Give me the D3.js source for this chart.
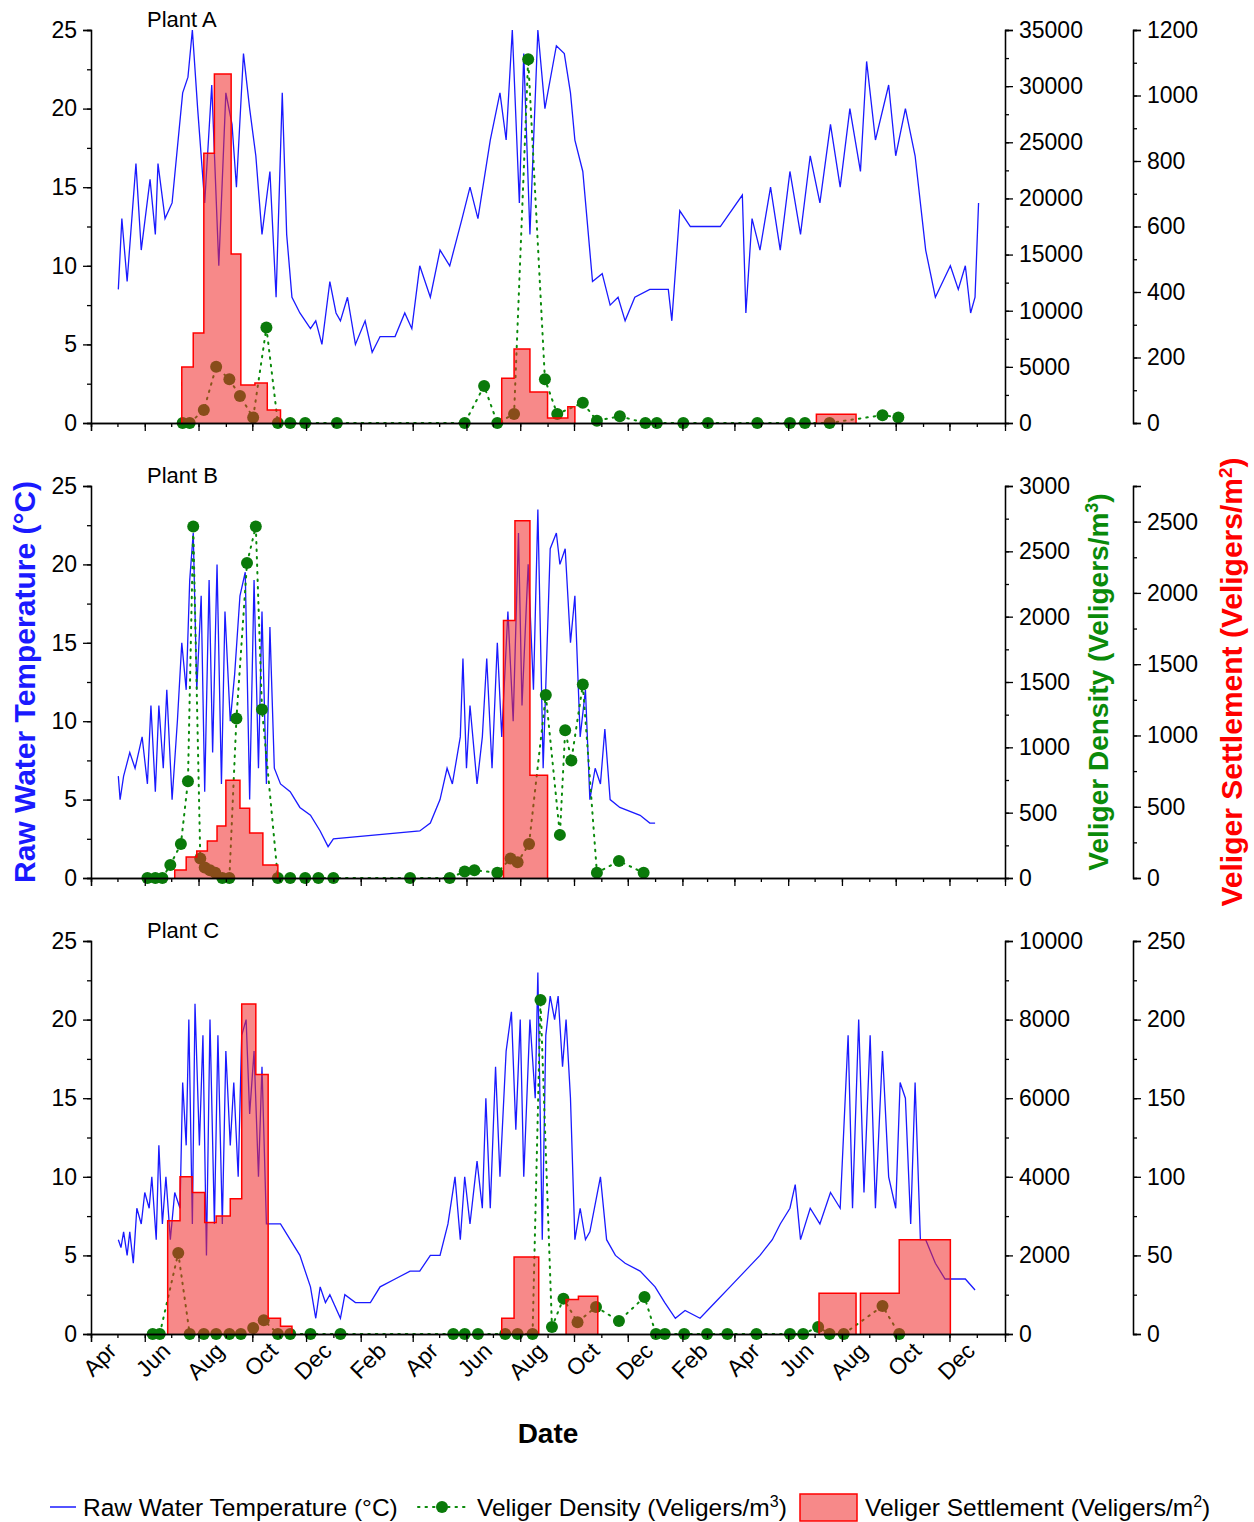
<!DOCTYPE html>
<html><head><meta charset="utf-8">
<script src="https://cdn.jsdelivr.net/npm/d3@7"></script>
<style>
body{margin:0;background:#fff;font-family:"Liberation Sans",Arial,sans-serif;}
svg text{font-family:"Liberation Sans",Arial,sans-serif;}
</style></head><body>
<svg id="svg" width="1254" height="1522"></svg>
<script>
// all times are days since 2016-04-01
const start = new Date(2016, 3, 1);

const tempA = [[31,8.5],[35,13],[41,9],[51,16.5],[57,11],[67,15.5],[73,12],[76,16.5],[84,13],[92,14],[104,21],[110,22],[115,25],[121,20],[129,14],[137,21.5],[145,10],[153,21],[160,19],[165,15],[173,23.5],[180,20],[187,17],[194,12],[203,16],[210,8],[217,21],[222,12],[228,8],[237,7],[249,6],[255,6.5],[262,5],[271,9],[278,7],[283,6.5],[291,8],[300,5],[311,6.5],[319,4.5],[328,5.5],[345,5.5],[356,7],[364,6],[373,10],[385,8],[396,11],[407,10],[421,13],[430,15],[439,13],[453,18],[464,21],[471,18],[478,25],[486,14],[491,23.5],[498,12],[507,25],[515,20],[528,24],[537,23.5],[544,21],[549,18],[558,16],[569,9],[580,9.5],[589,7.5],[598,8],[606,6.5],[617,8],[634,8.5],[655,8.5],[659,6.5],[668,13.5],[680,12.5],[714,12.5],[739,14.5],[743,7],[750,13],[759,11],[771,15],[782,11],[793,16],[805,12],[816,17],[827,14],[839,19],[850,15],[861,20],[873,16],[880,23],[890,18],[905,21.5],[913,17],[924,20],[935,17],[947,11],[958,8],[975,10],[984,8.5],[992,10],[998,7],[1003,8],[1007,14]];
const densA = [[104,0],[112,0],[128,1150],[142,5000],[157,3900],[169,2400],[184,500],[199,8500],[212,0],[226,0],[243,0],[279,0],[424,0],[446,3300],[461,0],[480,800],[496,32400],[515,3900],[529,800],[558,1800],[574,200],[600,600],[629,0],[642,0],[672,0],[700,0],[756,0],[793,0],[810,0],[838,0],[898,700],[916,500]];
const settleA = [[103,116,171],[116,128,275],[128,140,824],[140,159,1066],[159,170,516],[170,186,116],[186,200,122],[200,215,40],[466,480,137],[480,498,226],[498,518,95],[518,541,15],[541,549,50],[823,868,27]];

const tempB = [[31,6.5],[33,5],[37,6.5],[44,8],[50,7],[58,9],[64,6],[68,11],[73,5.5],[77,11],[82,7],[86,12],[92,5],[98,10],[103,15],[108,12],[112,19],[116,22],[120,12],[125,18],[129,5.5],[134,19],[138,8],[143,20],[148,6],[152,17],[158,10],[163,13],[169,18],[175,19.5],[180,5],[185,19],[190,7],[194,17],[199,6],[203,16],[208,7],[215,6],[226,5.5],[237,4.5],[249,4],[260,3],[269,2],[275,2.5],[373,3],[385,3.5],[396,5],[404,7],[410,6],[419,9],[422,14],[426,7],[430,11],[438,6],[444,9],[449,14],[455,7],[461,15],[466,9],[473,17],[479,10],[485,22],[489,11],[496,20],[502,12],[507,23.5],[513,7],[521,21],[528,22],[532,20],[538,21],[544,15],[549,18],[555,9],[561,12],[566,5],[572,7],[578,6],[583,9.5],[589,5],[600,4.5],[623,4],[634,3.5],[640,3.5]];
const densB = [[64,0],[73,0],[81,0],[90,100],[102,260],[110,740],[116,2690],[124,150],[129,80],[135,60],[141,40],[149,0],[157,0],[165,1220],[177,2410],[187,2690],[194,1290],[212,0],[226,0],[243,0],[258,0],[275,0],[362,0],[407,0],[424,50],[435,60],[461,40],[476,150],[484,120],[497,260],[516,1400],[532,330],[538,1130],[545,900],[558,1480],[574,40],[599,130],[627,40]];
const settleB = [[95,108,56],[108,120,147],[120,132,189],[132,143,259],[143,153,364],[153,169,686],[169,180,490],[180,195,315],[195,212,91],[468,481,1806],[481,498,2507],[498,518,721]];

const tempC = [[31,6],[34,5.5],[37,6.5],[41,5],[44,6.5],[48,4.5],[52,8],[57,7],[61,9],[66,8],[69,10],[74,6],[77,12],[81,7],[85,10],[90,6],[95,9],[101,8],[104,16],[108,12],[111,20],[115,7],[118,21],[123,12],[127,19],[131,5],[135,20],[140,7],[144,19],[149,7],[153,18],[158,12],[162,16],[167,10],[171,19],[176,20],[180,14],[185,18],[190,10],[194,17],[199,7],[205,7],[215,7],[226,6],[237,5],[249,3],[255,1],[260,3],[266,2],[271,2.5],[283,1],[288,2.5],[300,2],[317,2],[328,3],[345,3.5],[362,4],[373,4],[385,5],[396,5],[405,7],[413,10],[419,6],[424,10],[430,7],[438,11],[444,8],[448,15],[453,8],[459,17],[464,10],[471,18],[477,20.5],[482,13],[487,20],[491,10],[498,20],[504,15],[507,23],[512,6],[516,19],[521,21.5],[526,20],[530,21.5],[535,17],[539,20],[544,15],[549,6],[555,8],[561,6],[566,6.5],[578,10],[585,6],[595,5],[606,4.5],[623,4],[640,3],[651,2],[663,1],[674,1.5],[691,1],[708,2],[725,3],[742,4],[759,5],[773,6],[782,7],[793,8],[799,9.5],[805,6],[816,8],[827,7],[839,9],[850,8],[859,19],[864,8],[871,20],[877,9],[884,19],[890,8],[898,18],[905,10],[913,8],[918,16],[924,15],[930,7],[935,16],[941,6],[947,6],[958,4.5],[969,3.5],[981,3.5],[992,3.5],[1003,2.8]];
const densC = [[70,0],[78,0],[99,2060],[112,0],[128,0],[142,0],[157,0],[170,0],[184,150],[196,350],[212,0],[226,0],[249,0],[283,0],[411,0],[424,0],[439,0],[470,0],[484,0],[501,0],[510,8500],[523,180],[536,900],[552,300],[573,690],[599,330],[628,940],[641,0],[651,0],[673,0],[699,0],[722,0],[755,0],[793,0],[808,0],[825,180],[838,0],[854,0],[898,710],[917,0]];
const settleC = [[87,101,72],[101,115,100],[115,129,90],[129,142,71],[142,158,75],[158,171,86],[171,187,210],[187,201,165],[201,215,10],[215,228,5],[466,480,10],[480,508,49],[539,553,22],[553,575,24],[826,868,26],[873,917,26],[917,975,60]];

const densTicks = [[0,5000,10000,15000,20000,25000,30000,35000],[0,500,1000,1500,2000,2500,3000],[0,2000,4000,6000,8000,10000]];
const settleTicks = [[0,200,400,600,800,1000,1200],[0,500,1000,1500,2000,2500],[0,50,100,150,200,250]];
const densMax = [35000, 3000, 10000];
const settleMax = [1200, 2750, 250];
const plantNames = ['Plant A', 'Plant B', 'Plant C'];

const panels = [
  {name: plantNames[0], temp: tempA, dens: densA, settle: settleA, top: 30, bottom: 423},
  {name: plantNames[1], temp: tempB, dens: densB, settle: settleB, top: 486, bottom: 878},
  {name: plantNames[2], temp: tempC, dens: densC, settle: settleC, top: 941, bottom: 1334},
];

const day = d => d3.timeDay.offset(start, d);
const svg = d3.select('#svg');
const x = d3.scaleTime().domain([start, new Date(2019, 1, 2)]).range([91, 1005]);
const months = d3.timeMonth.range(start, new Date(2019, 0, 31));
const majorMonths = months.filter((m, i) => i % 2 === 0);
const xRight = 1005, xFar = 1133;
const FS = 23;

function styleAxis(g) {
  g.selectAll('path,line').attr('stroke', '#000').attr('stroke-width', 1.3);
  g.selectAll('text').attr('font-size', FS).attr('fill', '#000');
}

panels.forEach((p, i) => {
  const yT = d3.scaleLinear().domain([0, 25]).range([p.bottom, p.top]);
  const yD = d3.scaleLinear().domain([0, densMax[i]]).range([p.bottom, p.top]);
  const yS = d3.scaleLinear().domain([0, settleMax[i]]).range([p.bottom, p.top]);
  const g = svg.append('g');

  // temperature line
  g.append('path').datum(p.temp)
    .attr('fill', 'none').attr('stroke', '#1a1aff').attr('stroke-width', 1.3)
    .attr('d', d3.line().x(d => x(day(d[0]))).y(d => yT(d[1])));

  // density: dotted line + dots
  g.append('path').datum(p.dens)
    .attr('fill', 'none').attr('stroke', '#0a8a0a').attr('stroke-width', 2)
    .attr('stroke-dasharray', '1.5,6').attr('stroke-linecap', 'round')
    .attr('d', d3.line().x(d => x(day(d[0]))).y(d => yD(d[1])));
  g.append('g').selectAll('circle').data(p.dens).join('circle')
    .attr('cx', d => x(day(d[0]))).attr('cy', d => yD(d[1])).attr('r', 6)
    .attr('fill', '#0a7a0a');

  // settlement steps, grouped into contiguous runs
  const groups = [];
  p.settle.forEach(b => {
    const last = groups[groups.length - 1];
    if (last && last[last.length - 1][1] === b[0]) last.push(b);
    else groups.push([b]);
  });
  groups.forEach(gr => {
    const pts = [[gr[0][0], 0]];
    gr.forEach(b => pts.push([b[0], b[2]]));
    pts.push([gr[gr.length - 1][1], 0]);
    g.append('path').datum(pts)
      .attr('fill', 'rgba(240,40,40,0.55)').attr('stroke', '#ff0000').attr('stroke-width', 1.5)
      .attr('d', d3.line().curve(d3.curveStepAfter).x(d => x(day(d[0]))).y(d => yS(d[1])));
  });

  // axes
  g.append('g').attr('transform', `translate(91,0)`)
    .call(d3.axisLeft(yT).tickValues(d3.range(0, 25.1, 2.5)).tickSize(4).tickFormat(''))
    .call(styleAxis);
  g.append('g').attr('transform', `translate(91,0)`)
    .call(d3.axisLeft(yT).tickValues([0, 5, 10, 15, 20, 25]).tickSize(8).tickPadding(6))
    .call(styleAxis);

  g.append('g').attr('transform', `translate(${xRight},0)`)
    .call(d3.axisRight(yD).tickValues(d3.range(0, densMax[i] + 1, (densTicks[i][1]) / 2)).tickSize(4).tickFormat(''))
    .call(styleAxis);
  g.append('g').attr('transform', `translate(${xRight},0)`)
    .call(d3.axisRight(yD).tickValues(densTicks[i]).tickSize(8).tickPadding(6).tickFormat(d3.format('d')))
    .call(styleAxis);

  g.append('g').attr('transform', `translate(${xFar},0)`)
    .call(d3.axisRight(yS).tickValues(d3.range(0, settleMax[i] + 1, settleTicks[i][1] / 2)).tickSize(4).tickFormat(''))
    .call(styleAxis);
  g.append('g').attr('transform', `translate(${xFar},0)`)
    .call(d3.axisRight(yS).tickValues(settleTicks[i]).tickSize(8).tickPadding(6).tickFormat(d3.format('d')))
    .call(styleAxis);

  g.append('g').attr('transform', `translate(0,${p.bottom})`)
    .call(d3.axisBottom(x).tickValues(months).tickSize(4).tickFormat(''))
    .call(styleAxis);
  const xa = g.append('g').attr('transform', `translate(0,${p.bottom})`)
    .call(d3.axisBottom(x).tickValues(majorMonths).tickSize(8).tickFormat(i === 2 ? d3.timeFormat('%b') : ''))
    .call(styleAxis);
  xa.selectAll('text').attr('text-anchor', 'end').attr('dx', '0.25em').attr('dy', '0.9em')
    .attr('transform', 'rotate(-45)');

  g.append('text').attr('x', 147).attr('y', p.top - 3).attr('font-size', 22).text(p.name);
});

// axis titles
svg.append('text').attr('transform', 'translate(35,682) rotate(-90)').attr('text-anchor', 'middle')
  .attr('font-size', 30).attr('font-weight', 'bold').attr('fill', '#1a1aff').text('Raw Water Temperature (°C)');
const gt = svg.append('text').attr('transform', 'translate(1108,682) rotate(-90)').attr('text-anchor', 'middle')
  .attr('font-size', 28).attr('font-weight', 'bold').attr('fill', '#0a8a0a');
gt.append('tspan').text('Veliger Density (Veligers/m');
gt.append('tspan').attr('dy', -10).attr('font-size', 18).text('3');
gt.append('tspan').attr('dy', 10).text(')');
const rt = svg.append('text').attr('transform', 'translate(1242,682) rotate(-90)').attr('text-anchor', 'middle')
  .attr('font-size', 30).attr('font-weight', 'bold').attr('fill', '#ff0000');
rt.append('tspan').text('Veliger Settlement (Veligers/m');
rt.append('tspan').attr('dy', -10).attr('font-size', 19).text('2');
rt.append('tspan').attr('dy', 10).text(')');
svg.append('text').attr('x', 548).attr('y', 1443).attr('text-anchor', 'middle')
  .attr('font-size', 28).attr('font-weight', 'bold').text('Date');

// legend
const lg = svg.append('g').attr('font-size', 24.5);
lg.append('line').attr('x1', 50).attr('x2', 76).attr('y1', 1507).attr('y2', 1507).attr('stroke', '#1a1aff').attr('stroke-width', 1.5);
lg.append('text').attr('x', 83).attr('y', 1516).text('Raw Water Temperature (°C)');
lg.append('line').attr('x1', 418).attr('x2', 466).attr('y1', 1507).attr('y2', 1507).attr('stroke', '#0a8a0a')
  .attr('stroke-width', 2).attr('stroke-dasharray', '1.5,6').attr('stroke-linecap', 'round');
lg.append('circle').attr('cx', 442).attr('cy', 1507).attr('r', 6).attr('fill', '#0a7a0a');
const lt = lg.append('text').attr('x', 477).attr('y', 1516);
lt.append('tspan').text('Veliger Density (Veligers/m');
lt.append('tspan').attr('dy', -9).attr('font-size', 16).text('3');
lt.append('tspan').attr('dy', 9).text(')');
lg.append('rect').attr('x', 800).attr('y', 1494).attr('width', 57).attr('height', 27)
  .attr('fill', 'rgba(240,40,40,0.55)').attr('stroke', '#ff0000').attr('stroke-width', 1.5);
const lt2 = lg.append('text').attr('x', 865).attr('y', 1516);
lt2.append('tspan').text('Veliger Settlement (Veligers/m');
lt2.append('tspan').attr('dy', -9).attr('font-size', 16).text('2');
lt2.append('tspan').attr('dy', 9).text(')');
</script></body></html>
